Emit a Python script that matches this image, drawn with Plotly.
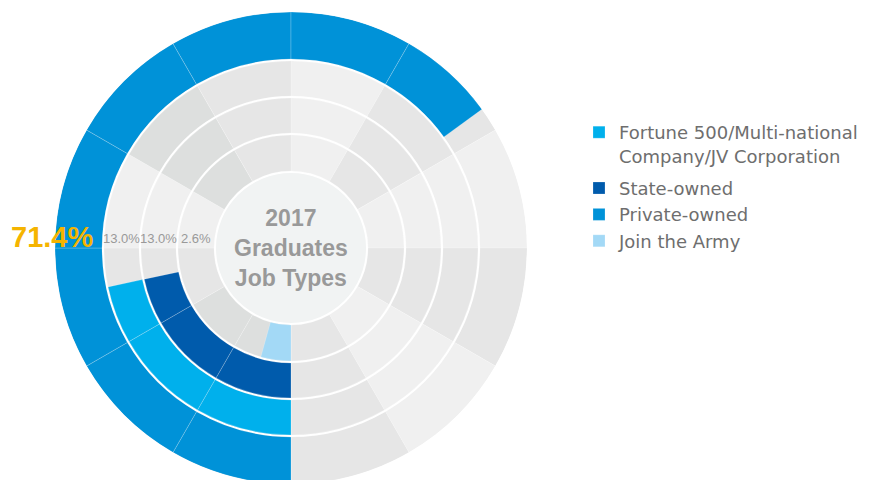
import plotly.graph_objects as go

# ---------------- data (inner ring -> outer ring) ----------------
ring_names = [
    "Join the Army",
    "State-owned",
    "Fortune 500/Multi-national<br>Company/JV Corporation",
    "Private-owned",
]
ring_labels = ["2.6%", "13.0%", "13.0%", "71.4%"]          # printed values
ring_sweep_deg = [15.5, 78.0, 78.0, 234.0]                  # arc drawn in the picture
ring_colors = ["#a3d9f6", "#005bac", "#00b0ec", "#0092d8"]
legend_rank = [4, 2, 1, 3]
legend_group = ["rest", "rest", "first", "rest"]

sector_step = 30
sector_shades = ["#f0f0f0", "#e6e6e6", "#f0f0f0", "#e6e6e6", "#f0f0f0", "#e6e6e6",
                 "#dddfde", "#dddfde", "#e6e6e6", "#f0f0f0", "#dddfde", "#e6e6e6"]

center_title = "2017<br>Graduates<br>Job Types"

# ---------------- geometry / style ----------------
PAGE_OFF = 8                      # default body margin of the html page
W, H = 889 - PAGE_OFF, 476
MT = 4
R_MAX = 236.0
hole_r = 75.0
ring_inner = [77.0, 115.0, 152.0, 189.0]
ring_outer = [113.0, 150.0, 187.0, 236.0]
arc_start = 180.0

plot_h = H - MT
radius_px = plot_h / 2.0
cx_px = 291.0 - PAGE_OFF
dom_x = [(cx_px - radius_px) / W, (cx_px + radius_px) / W]
scale = radius_px / R_MAX
seam = dict(color="rgba(255,255,255,0.35)", width=0.6)


def chunks(start, sweep, step):
    th, wd = [], []
    a, end = start, start + sweep
    while a < end - 1e-9:
        b = min((a // step + 1) * step, end)
        th.append((a + b) / 2.0)
        wd.append(b - a)
        a = b
    return th, wd


def py(pix_y):
    """page pixel y (reference) -> paper y"""
    return (H - (pix_y - PAGE_OFF)) / plot_h


fig = go.Figure()

# center disk
fig.add_trace(go.Barpolar(theta=[0], width=[360], base=[0], r=[hole_r],
                          marker=dict(color="#f1f3f3", line=dict(width=0)),
                          showlegend=False, hoverinfo="skip"))

# grey background sectors
n_sec = len(sector_shades)
bg_theta, bg_width, bg_base, bg_r, bg_col = [], [], [], [], []
for i in range(len(ring_names)):
    for k in range(n_sec):
        bg_theta.append(k * sector_step + sector_step / 2)
        bg_width.append(sector_step)
        bg_base.append(ring_inner[i])
        bg_r.append(ring_outer[i] - ring_inner[i])
        bg_col.append(sector_shades[k])
fig.add_trace(go.Barpolar(theta=bg_theta, width=bg_width, base=bg_base, r=bg_r,
                          marker=dict(color=bg_col, line=seam),
                          showlegend=False, hoverinfo="skip"))

# coloured arcs
for i, name in enumerate(ring_names):
    th, wd = chunks(arc_start, ring_sweep_deg[i], sector_step)
    fig.add_trace(go.Barpolar(
        theta=th, width=wd,
        base=[ring_inner[i]] * len(th),
        r=[ring_outer[i] - ring_inner[i]] * len(th),
        name=name, legendrank=legend_rank[i], legendgroup=legend_group[i],
        marker=dict(color=ring_colors[i], line=seam),
        hoverinfo="name",
    ))

annotations = [dict(
    text="<b>" + center_title + "</b>", x=cx_px / W, y=0.5, xref="paper", yref="paper",
    showarrow=False, font=dict(family="Liberation Sans, Arial", size=23, color="#999999"),
    xanchor="center", yanchor="middle")]

# value labels along the 9 o'clock line
for i, lab in enumerate(ring_labels):
    if i == len(ring_labels) - 1:
        annotations.append(dict(
            text="<b>" + lab + "</b>", x=(cx_px - 196 * scale) / W, y=py(237),
            xref="paper", yref="paper", showarrow=False, xanchor="right", yanchor="middle",
            font=dict(family="Liberation Sans, Arial", size=29, color="#f5b400")))
    else:
        rmid = (ring_inner[i] + ring_outer[i]) / 2.0
        annotations.append(dict(
            text=lab, x=(cx_px - rmid * scale) / W, y=py(238.5),
            xref="paper", yref="paper", showarrow=False, xanchor="center", yanchor="middle",
            font=dict(family="Liberation Sans, Arial", size=13, color="#999999")))

fig.update_layout(
    width=W, height=H,
    margin=dict(l=0, r=0, t=MT, b=0),
    paper_bgcolor="white",
    showlegend=True,
    legend=dict(x=(579 - PAGE_OFF) / W, xanchor="left", y=py(114), yanchor="top",
                font=dict(family="DejaVu Sans", size=18, color="#6e6e6e"),
                valign="top", tracegroupgap=6, bgcolor="rgba(0,0,0,0)"),
    polar=dict(
        domain=dict(x=dom_x, y=[0, 1]),
        bgcolor="white",
        bargap=0,
        barmode="overlay",
        radialaxis=dict(range=[0, R_MAX], visible=False, showgrid=False),
        angularaxis=dict(direction="clockwise", rotation=90, visible=False, showgrid=False),
    ),
    annotations=annotations,
)

fig.write_html("out.html")
